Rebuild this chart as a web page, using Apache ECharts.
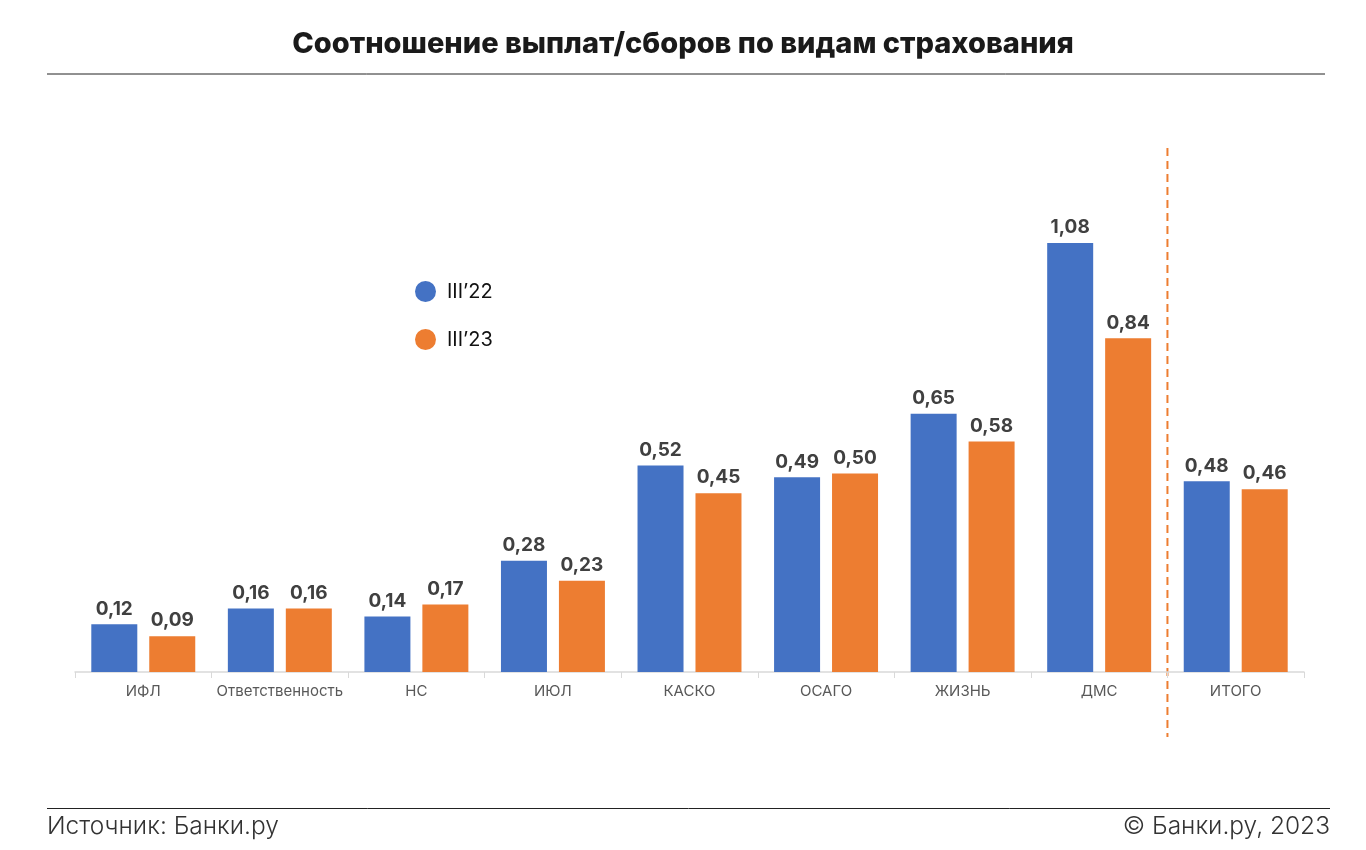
<!DOCTYPE html>
<html>
<head>
<meta charset="utf-8">
<script src="https://cdn.jsdelivr.net/npm/echarts@6/dist/echarts.min.js"></script>
<style>
html,body{margin:0;padding:0;background:#fff;}
#chart{width:1366px;height:850px;}
</style>
</head>
<body>
<div id="chart"></div>
<script>
const categories = ['ИФЛ','Ответственность','НС','ИЮЛ','КАСКО','ОСАГО','ЖИЗНЬ','ДМС','ИТОГО'];
const seriesNames = ['III’22','III’23'];
const values22 = [0.12,0.16,0.14,0.28,0.52,0.49,0.65,1.08,0.48];
const values23 = [0.09,0.16,0.17,0.23,0.45,0.50,0.58,0.84,0.46];
const titleText = 'Соотношение выплат/сборов по видам страхования';
const sourceText = 'Источник: Банки.ру';
const copyrightText = '© Банки.ру, 2023';

const FONT = 'Inter, "Noto Sans", sans-serif';
const chart = echarts.init(document.getElementById('chart'));
const labelCfg = {
  show: true, position: 'top', distance: 6,
  color: '#404040', fontSize: 19, fontWeight: 'bold', fontFamily: FONT,
  formatter: p => p.value.toFixed(2).replace('.', ',')
};
chart.setOption({
  animation: false,
  backgroundColor: '#fff',
  title: {
    text: titleText, left: 'center', top: 25,
    textStyle: {fontFamily: FONT, fontSize: 29, fontWeight: 800, color: '#1a1a1a'}
  },
  legend: {
    orient: 'vertical', left: 410, top: 276,
    itemWidth: 21, itemHeight: 21, itemGap: 27, icon: 'circle',
    textStyle: {fontFamily: FONT, fontSize: 20, color: '#111', padding: [0, 0, 0, 6]},
    data: seriesNames
  },
  grid: {left: 75, right: 62, top: 100, bottom: 178},
  xAxis: {
    type: 'category', data: categories,
    axisLine: {lineStyle: {color: '#d9d9d9', width: 1.5}},
    axisTick: {show: true, length: 6, lineStyle: {color: '#d9d9d9'}},
    axisLabel: {color: '#595959', fontSize: 15, fontFamily: FONT, margin: 12, interval: 0}
  },
  yAxis: {type: 'value', min: 0, max: 1.44, show: false, splitLine: {show: false}},
  series: [
    {name: seriesNames[0], type: 'bar', data: values22, barWidth: 46, barGap: '26%',
     itemStyle: {color: '#4472C4'}, label: labelCfg},
    {name: seriesNames[1], type: 'bar', data: values23, barWidth: 46,
     itemStyle: {color: '#ED7D31'}, label: labelCfg}
  ]
});
const x1 = chart.convertToPixel({xAxisIndex: 0}, categories[7]);
const x2 = chart.convertToPixel({xAxisIndex: 0}, categories[8]);
const sepX = (x1 + x2) / 2;
chart.setOption({
  graphic: [
    {type: 'line', shape: {x1: 47, y1: 74, x2: 1325, y2: 74}, style: {stroke: '#222', lineWidth: 1}},
    {type: 'line', shape: {x1: 47, y1: 808.5, x2: 1330, y2: 808.5}, style: {stroke: '#222', lineWidth: 1}},
    {type: 'line', shape: {x1: sepX, y1: 148, x2: sepX, y2: 737},
     style: {stroke: '#ED7D31', lineWidth: 2, lineDash: [8, 5]}},
    {type: 'text', left: 47, top: 814,
     style: {text: sourceText, fontFamily: FONT, fontSize: 24.5, fontWeight: 300, fill: '#333'}},
    {type: 'text', right: 36, top: 814,
     style: {text: copyrightText, fontFamily: FONT, fontSize: 24.5, fontWeight: 300, fill: '#333'}}
  ]
});
</script>
</body>
</html>
